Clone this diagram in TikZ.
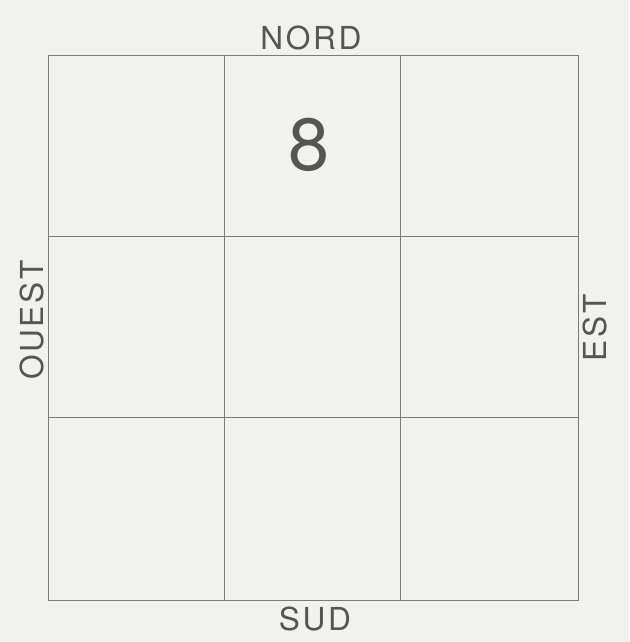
\documentclass[tikz,border=0pt]{standalone}
\usepackage{fontspec}
\setmainfont{TeX Gyre Heros}
\usetikzlibrary{positioning}
\definecolor{paper}{HTML}{F1F1EE}
\definecolor{ink}{HTML}{555555}
\definecolor{rule}{HTML}{7A7A7A}

\begin{document}
\begin{tikzpicture}[
  x=0.02cm,
  y=-0.02cm,
  every node/.style={align=center, text=ink},
  compass/.style={
    font=\fontsize{18}{20}\selectfont,
    inner sep=0pt
  },
  cellnum/.style={
    font=\fontsize{42}{44}\selectfont,
    inner sep=0pt
  },
  gridline/.style={draw=rule, line width=0.5pt}
]
  % Paper background and page size.
  \fill[paper] (0,0) rectangle (629,642);
  \useasboundingbox (0,0) rectangle (629,642);

  % The three by three grid.
  \coordinate (nw) at (48,55);
  \coordinate (se) at (578,600);
  \foreach \x in {224,400}
    \draw[gridline] (\x,55) -- (\x,600);
  \foreach \y in {236,417}
    \draw[gridline] (48,\y) -- (578,\y);
  \draw[gridline] (nw) rectangle (se);

  % Compass labels.
  \node[compass] (nord) at (311,38) {N\kern1.5pt O\kern1.5pt R\kern1.5pt D};
  \node[compass] (sud) at (315,619) {S\kern1.5pt U\kern1.5pt D};
  \node[compass, rotate=90] (ouest) at (32,320) {O\kern1.5pt U\kern1.5pt E\kern1.5pt S\kern1.5pt T};
  \node[compass, rotate=90] (est) at (595,328) {E\kern1.5pt S\kern1.5pt T};

  % Cell number.
  \node[cellnum] (eight) at (309,145) {8};
\end{tikzpicture}
\end{document}
